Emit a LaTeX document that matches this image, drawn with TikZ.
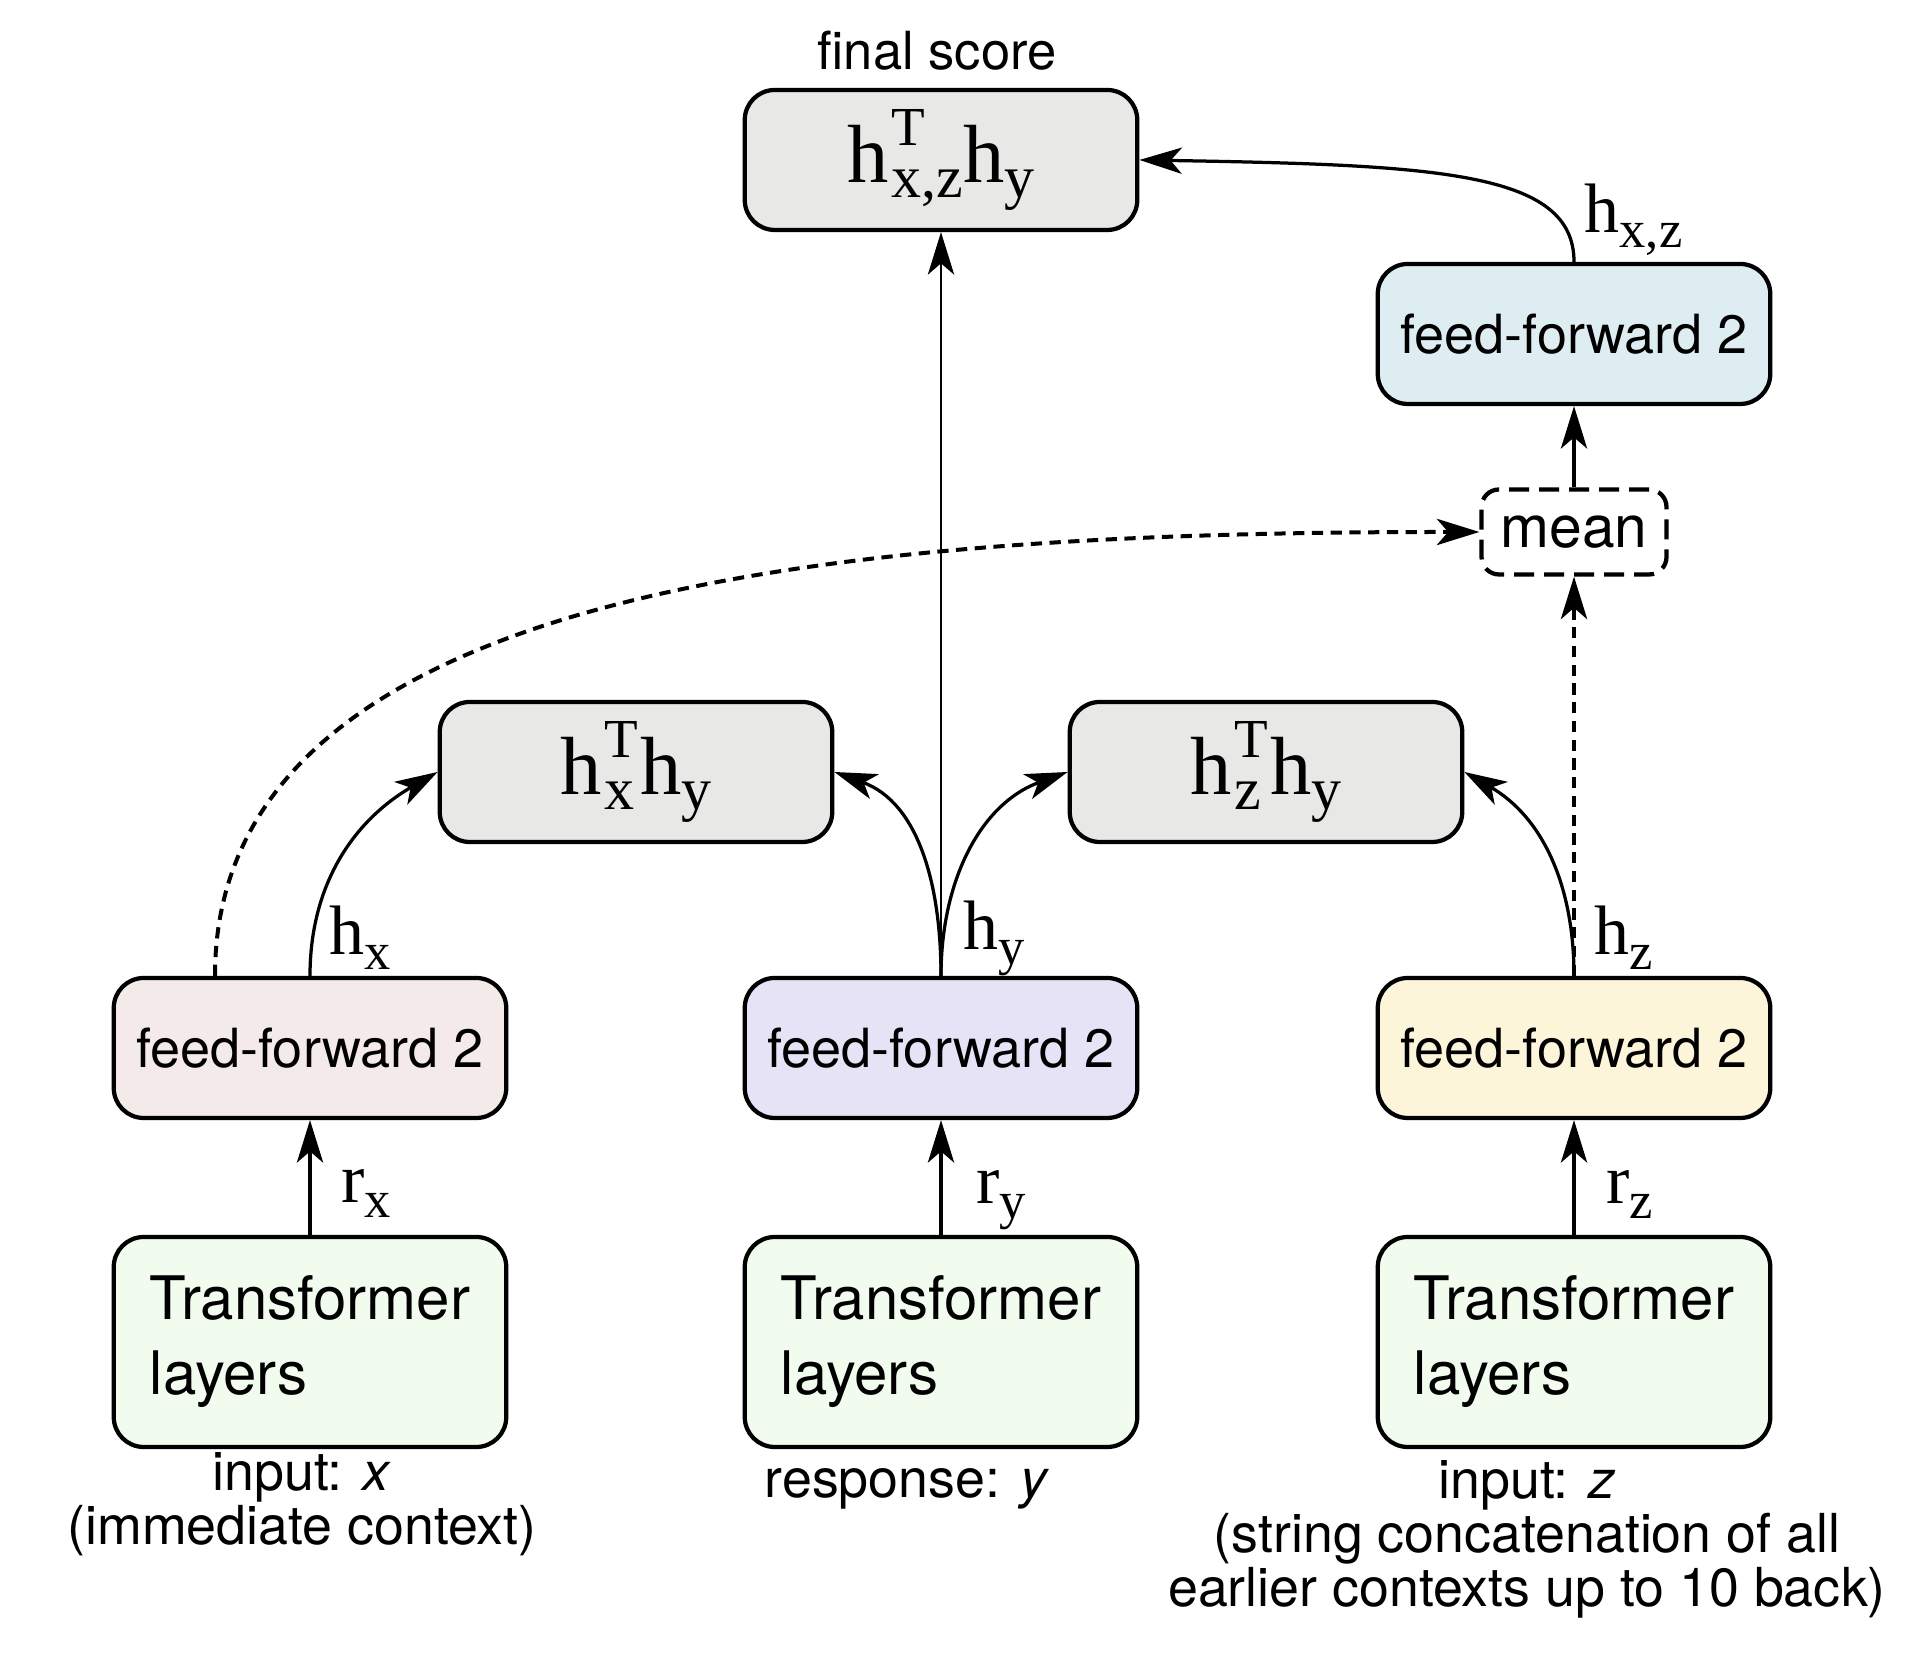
\documentclass[tikz,border=0pt]{standalone}
\usepackage{fontspec}
\setsansfont{TeX Gyre Heros}
\newfontfamily\tms{Liberation Serif}
\usetikzlibrary{arrows.meta}

\newcommand\sub[2][21]{\raisebox{-6pt}{\fontsize{#1}{#1}\selectfont #2}}
\newcommand\supsub[1]{\kern1pt\setbox0\hbox{\raisebox{15pt}{\fontsize{22}{22}\selectfont T}}\setbox2\hbox{\sub[24]{#1}}%
  \ifdim\wd0>\wd2 \rlap{\box2}\box0\kern1pt\else\rlap{\box0}\box2\fi}

\tikzset{every picture/.style={line width=1.3pt}}
\tikzset{
  blk/.style={draw, line width=1.7pt, rounded corners=12pt, minimum width=157pt, minimum height=56pt, inner sep=0pt, font=\sffamily\fontsize{21.6}{25}\selectfont},
  tfm/.style={blk, fill={rgb, 255:red, 241; green, 252; blue, 238 }, minimum height=84pt, align=left, font=\sffamily\fontsize{24}{30}\selectfont},
  prod/.style={blk, fill={rgb, 255:red, 232; green, 232; blue, 230 }, font=\tms\fontsize{33}{33}\selectfont},
  lbl/.style={anchor=base west, inner sep=0pt, font=\tms\fontsize{28}{28}\selectfont},
  capt/.style={anchor=base, inner sep=0pt, align=center, font=\sffamily\fontsize{21.5}{21.6}\selectfont},
  conn/.style={-{Stealth[length=17pt,width=10.5pt,inset=4.5pt]}, line width=1.3pt},
  dotc/.style={conn, dash pattern=on 4.5pt off 3pt, line width=1.6pt}
}

\begin{document}
\begin{tikzpicture}[x=0.4pt,y=0.4pt]
\useasboundingbox (0,0) rectangle (1926,1664);

%Transformer layers
\node (tfx) at (310,322) [tfm] {Transformer\\layers};
\node (tfy) at (941,322) [tfm] {Transformer\\layers};
\node (tfz) at (1574,322) [tfm] {Transformer\\layers};

%feed-forward
\node (ffx) at (310,616) [blk, fill={rgb, 255:red, 244; green, 234; blue, 234 }] {feed-forward 2};
\node (ffy) at (941,616) [blk, fill={rgb, 255:red, 230; green, 227; blue, 247 }] {feed-forward 2};
\node (ffz) at (1574,616) [blk, fill={rgb, 255:red, 253; green, 245; blue, 218 }] {feed-forward 2};
\node (ffxz) at (1574,1330) [blk, fill={rgb, 255:red, 222; green, 237; blue, 242 }] {feed-forward 2};

%dot products
\node (hxhy) at (636,892) [prod] {h\supsub{x}h\sub[24]{y}};
\node (hzhy) at (1266,892) [prod] {h\supsub{z}h\sub[24]{y}};
\node (final) at (941,1504) [prod] {h\supsub{x,z}h\sub[24]{y}};

%mean
\node (mean) at (1574,1132) [draw, line width=1.7pt, dash pattern=on 8pt off 4pt, rounded corners=7pt, minimum width=74pt, minimum height=34pt, inner sep=0pt, font=\sffamily\fontsize{23.5}{25}\selectfont] {mean};

%Straight Lines
\draw [conn] (tfx.north) -- (ffx.south);
\draw [conn] (tfy.north) -- (ffy.south);
\draw [conn] (tfz.north) -- (ffz.south);
\draw [conn] (mean.north) -- (ffxz.south);
\draw [conn, line width=1.1pt] (ffy.north) -- (ffy.north |- final.south);
\draw [dotc] (ffz.north) -- (ffz.north |- mean.south);

%Curves
\draw [conn] (ffx.north) to[out=90,in=210] (hxhy.west);
\draw [conn] (ffy.north) to[out=90,in=-20] (hxhy.east);
\draw [conn] (ffy.north) to[out=90,in=200] (hzhy.west);
\draw [conn] (ffz.north) to[out=90,in=-30] (hzhy.east);
\draw [conn] (ffxz.north) .. controls +(0,90) and +(300,-5) .. (final.east);
\draw [dotc] ([xshift=-38pt]ffx.north) .. controls +(0,400) and +(-600,0) .. (mean.west);

% Text Node
\node (lrx) at (340,461) [lbl] {r\sub{x}};
\node (lry) at (975,460) [lbl] {r\sub{y}};
\node (lrz) at (1605,460) [lbl] {r\sub{z}};
\node (lhx) at (328,709) [lbl] {h\sub{x}};
\node (lhy) at (962,714) [lbl] {h\sub{y}};
\node (lhz) at (1593,709) [lbl] {h\sub{z}};
\node (lhxz) at (1583,1431) [lbl] {h\sub{x,z}};

% Text Node
\node (score) at (937,1594) [capt, font=\sffamily\fontsize{21}{22}\selectfont] {final score};
\node (inx) at (302,119) [capt] {input: \textit{x}\\(immediate context)};
\node (iny) at (907,166) [capt] {response: \textit{y}};
\node (inz) at (1527,57) [capt] {input: \textit{z}\\(string concatenation of all\\earlier contexts up to 10 back)};

\end{tikzpicture}
\end{document}
